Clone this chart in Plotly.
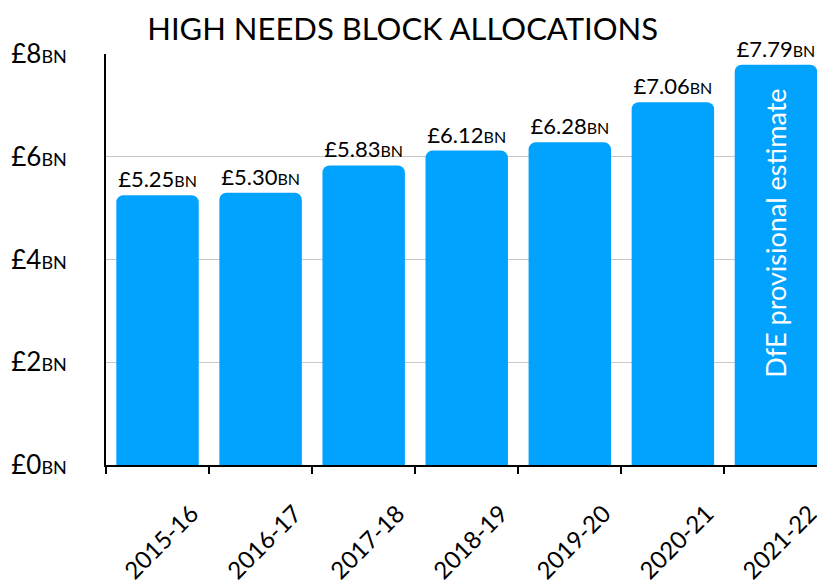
import plotly.graph_objects as go

years = ["2015-16", "2016-17", "2017-18", "2018-19", "2019-20", "2020-21", "2021-22"]
values = [5.25, 5.30, 5.83, 6.12, 6.28, 7.06, 7.79]
y_ticks = [0, 2, 4, 6, 8]
title = "HIGH NEEDS BLOCK ALLOCATIONS"
note = "DfE provisional estimate"

FONT = "Lato"
BLUE = "#02a3fe"

def bn(v, fmt, small):
    return "£" + format(v, fmt) + "<span style='font-size:%dpx'>BN</span>" % small

bar_text = [bn(v, ".2f", 16) for v in values]
tick_text = [bn(v, "d", 18) for v in y_ticks]

fig = go.Figure()
fig.add_trace(go.Bar(
    x=years, y=values,
    marker=dict(color=BLUE, cornerradius=7, line=dict(width=0)),
    text=bar_text, textposition="outside", cliponaxis=False,
    textfont=dict(family=FONT, size=22, color="black"),
    hoverinfo="skip",
))
fig.add_annotation(
    x=years[-1], y=4.52, text=note, textangle=-90, showarrow=False,
    font=dict(family=FONT, size=27, color="white"),
)
fig.update_layout(
    width=817, height=578,
    margin=dict(l=98, r=0, t=46, b=121, autoexpand=False),
    paper_bgcolor="white", plot_bgcolor="white",
    bargap=0.2, showlegend=False,
    title=dict(text=title, x=0.483, xanchor="center", y=0.963, yanchor="middle",
               font=dict(family=FONT, size=31, color="black")),
    font=dict(family=FONT, color="black"),
)
fig.update_xaxes(
    range=[-0.5, 6.476], showline=True, linecolor="black", linewidth=2,
    tickson="boundaries", ticks="outside", ticklen=7, tickwidth=2, tickcolor="black",
    tickangle=-45, tickfont=dict(family=FONT, size=24),
    ticklabelstandoff=23, ticklabelshift=34,
    showgrid=False, automargin=False,
)
fig.update_yaxes(
    range=[0, 8], tickvals=y_ticks, ticktext=tick_text,
    showline=True, linecolor="black", linewidth=2,
    showgrid=True, gridcolor="#c8c8c8", gridwidth=1, zeroline=False,
    tickfont=dict(family=FONT, size=26), ticklabelstandoff=32, automargin=False,
)
fig.write_html("out.html")
